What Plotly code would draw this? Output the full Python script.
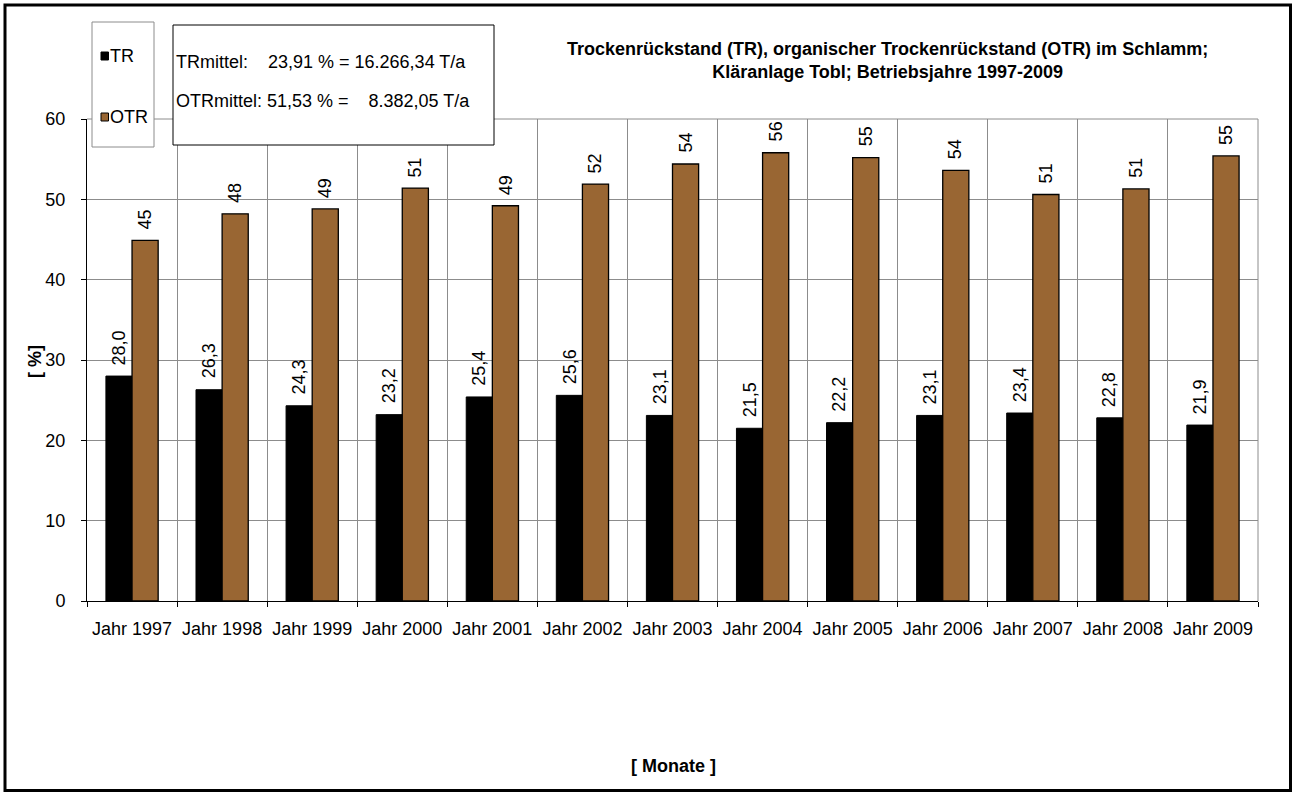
import plotly.graph_objects as go

# Betriebsjahre und Messwerte (Mittel je Jahr, in %)
jahre = ["Jahr 1997", "Jahr 1998", "Jahr 1999", "Jahr 2000", "Jahr 2001", "Jahr 2002",
         "Jahr 2003", "Jahr 2004", "Jahr 2005", "Jahr 2006", "Jahr 2007", "Jahr 2008",
         "Jahr 2009"]
tr_werte = [28.0, 26.3, 24.3, 23.2, 25.4, 25.6, 23.1, 21.5, 22.2, 23.1, 23.4, 22.8, 21.9]
otr_werte = [44.9, 48.2, 48.8, 51.4, 49.2, 51.9, 54.4, 55.8, 55.2, 53.6, 50.6, 51.3, 55.4]
y_ticks = [0, 10, 20, 30, 40, 50, 60]

titel = ("Trockenrückstand (TR), organischer Trockenrückstand (OTR) im Schlamm;<br>"
         "Kläranlage Tobl; Betriebsjahre 1997-2009")
info_zeilen = ["TRmittel:    23,91 % = 16.266,34 T/a",
               "OTRmittel: 51,53 % =    8.382,05 T/a"]

W_FIG, H_FIG = 1295, 794
L, R, T, B = 87, 37, 119, 193
PW, PH = W_FIG - L - R, H_FIG - T - B
BARGAP = 0.42
FONT = "Liberation Sans, Arial, sans-serif"
FS = 18
BRAUN = "#996633"
GRID = "#8c8c8c"


def px(x):
    return (x - L) / PW


def py(y):
    return 1 - (y - T) / PH


fig = go.Figure()
fig.add_trace(go.Bar(x=jahre, y=tr_werte, name="TR",
                     marker=dict(color="black", line=dict(color="black", width=1))))
fig.add_trace(go.Bar(x=jahre, y=otr_werte, name="OTR",
                     marker=dict(color=BRAUN, line=dict(color="black", width=1.3))))

annotations = []
half = (1 - BARGAP) / 4
for i, (tr, otr) in enumerate(zip(tr_werte, otr_werte)):
    annotations.append(dict(x=i - half, y=tr, xref="x", yref="y",
                            text=f"{tr:.1f}".replace(".", ","), textangle=-90,
                            showarrow=False, xanchor="center", yanchor="bottom",
                            yshift=9, font=dict(family=FONT, size=FS, color="black")))
    annotations.append(dict(x=i + half, y=otr, xref="x", yref="y",
                            text=f"{otr:.0f}", textangle=-90,
                            showarrow=False, xanchor="center", yanchor="bottom",
                            yshift=9, font=dict(family=FONT, size=FS, color="black")))

# Titel
annotations.append(dict(x=px(887), y=py(61), xref="paper", yref="paper", text=f"<b>{titel}</b>",
                        showarrow=False, xanchor="center", yanchor="middle", align="center",
                        font=dict(family=FONT, size=FS, color="black")))
# Achsentitel
annotations.append(dict(x=px(35), y=py(362), xref="paper", yref="paper", text="<b>[ %]</b>",
                        textangle=-90, showarrow=False, xanchor="center", yanchor="middle",
                        font=dict(family=FONT, size=FS, color="black")))
annotations.append(dict(x=px(673), y=py(766), xref="paper", yref="paper", text="<b>[ Monate ]</b>",
                        showarrow=False, xanchor="center", yanchor="middle",
                        font=dict(family=FONT, size=FS, color="black")))
# Mittelwert-Textfeld
for zeile, yy in zip(info_zeilen, [62, 101]):
    annotations.append(dict(x=px(174), y=py(yy), xref="paper", yref="paper", text=zeile,
                            showarrow=False, xanchor="left", yanchor="middle",
                            font=dict(family=FONT, size=FS, color="black")))
# Legendentexte
for name, yy in zip(["TR", "OTR"], [56, 117]):
    annotations.append(dict(x=px(107.5), y=py(yy), xref="paper", yref="paper", text=name,
                            showarrow=False, xanchor="left", yanchor="middle",
                            font=dict(family=FONT, size=FS, color="black")))

shapes = [
    # Rahmen der Zeichenfläche oben und rechts
    dict(type="line", xref="paper", yref="paper", x0=0, x1=1, y0=1, y1=1,
         line=dict(color=GRID, width=1), layer="above"),
    dict(type="line", xref="paper", yref="paper", x0=1, x1=1, y0=0, y1=1,
         line=dict(color=GRID, width=1), layer="above"),
    # Legendenfeld
    dict(type="rect", xref="paper", yref="paper", x0=px(92), x1=px(154), y0=py(147), y1=py(22),
         line=dict(color=GRID, width=1), fillcolor="white", layer="above"),
    dict(type="rect", xref="paper", yref="paper", x0=px(101), x1=px(108.5), y0=py(60), y1=py(52),
         line=dict(color="black", width=1), fillcolor="black", layer="above"),
    dict(type="rect", xref="paper", yref="paper", x0=px(101), x1=px(108.5), y0=py(121), y1=py(113),
         line=dict(color="black", width=1), fillcolor=BRAUN, layer="above"),
    # Mittelwert-Textfeld
    dict(type="rect", xref="paper", yref="paper", x0=px(173), x1=px(494), y0=py(145), y1=py(25),
         line=dict(color="black", width=1), fillcolor="white", layer="above"),
    # Außenrahmen
    dict(type="rect", xref="paper", yref="paper", x0=px(5), x1=px(1290.5), y0=py(790.5), y1=py(5),
         line=dict(color="black", width=3), layer="above"),
]

fig.update_layout(
    width=W_FIG, height=H_FIG,
    margin=dict(l=L, r=R, t=T, b=B, pad=0),
    paper_bgcolor="white", plot_bgcolor="white",
    barmode="group", bargap=BARGAP, bargroupgap=0,
    showlegend=False,
    font=dict(family=FONT, size=FS, color="black"),
    annotations=annotations, shapes=shapes,
)
fig.update_xaxes(
    type="category", tickson="boundaries", showgrid=True, gridcolor=GRID, gridwidth=1,
    showline=True, linecolor="black", linewidth=1,
    ticks="outside", ticklen=5, tickcolor="black",
    ticklabelstandoff=11, tickfont=dict(family=FONT, size=FS, color="black"),
    range=[-0.5, len(jahre) - 0.5],
)
fig.update_yaxes(
    range=[0, 60], tickvals=y_ticks, showgrid=True, gridcolor=GRID, gridwidth=1,
    zeroline=False, showline=True, linecolor="black", linewidth=1,
    ticks="outside", ticklen=5, tickcolor="black",
    ticklabelstandoff=12, tickfont=dict(family=FONT, size=FS, color="black"),
)

fig.write_html("out.html")
